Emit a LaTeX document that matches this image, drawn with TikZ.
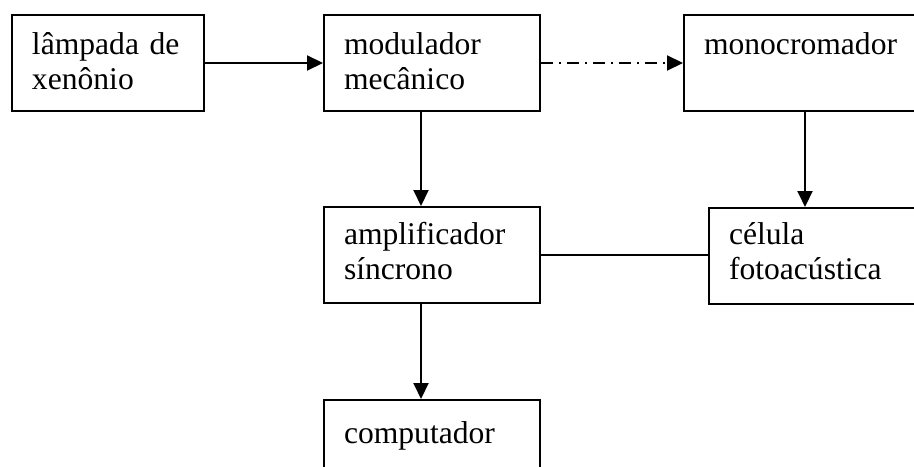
\documentclass[tikz,border=0pt]{standalone}
\usepackage{fontspec}
\setmainfont{Liberation Serif}
\usepackage{tikz}
\usetikzlibrary{arrows.meta, positioning}

\begin{document}
\begin{tikzpicture}[
  x=0.5pt, y=-0.5pt,
  blk/.style={draw, line width=1pt, anchor=north west, inner xsep=10pt,
              inner ysep=0pt, text width=#1, align=left, text height=19.5pt,
              text depth=28.5pt, font=\fontsize{15.8}{17.5}\selectfont},
  arrow/.style={-{Triangle[length=8pt, width=7.5pt]}, line width=1pt},
  link/.style={line width=1pt}
]
  \useasboundingbox (0,0) rectangle (914,466);

  % Top row
  \node[blk=76pt] (lamp) at (11, 14) {lâmpada de\\xenônio};
  \node[blk=88pt] (mod) at (323, 14) {modulador\\mecânico};
  \node[blk=101pt] (mono) at (683, 14) {monocromador};

  % Middle row
  \node[blk=88pt, text height=18.5pt, text depth=29.5pt] (amp) at (323, 206) {amplificador\\síncrono};
  \node[blk=88.5pt, text height=18pt, text depth=30pt] (cel) at (708, 207) {célula\\fotoacústica};

  % Bottom row
  \node[blk=88pt, text height=21.5pt, text depth=26.5pt] (comp) at (323, 399) {computador};

  % Arrows
  \draw[arrow] (lamp) -- (mod);
  \draw[arrow, dash pattern=on 6pt off 3pt on 1pt off 3pt] (mod) -- (mono);
  \draw[arrow] ([xshift=-5.5pt]mod.south) -- ([xshift=-5.5pt]amp.north);
  \draw[arrow] (mono.south) -- (mono.south |- cel.north);
  \draw[link] (amp.east) -- (amp.east -| cel.west);
  \draw[arrow] ([xshift=-5.5pt]amp.south) -- ([xshift=-5.5pt]comp.north);
\end{tikzpicture}
\end{document}
